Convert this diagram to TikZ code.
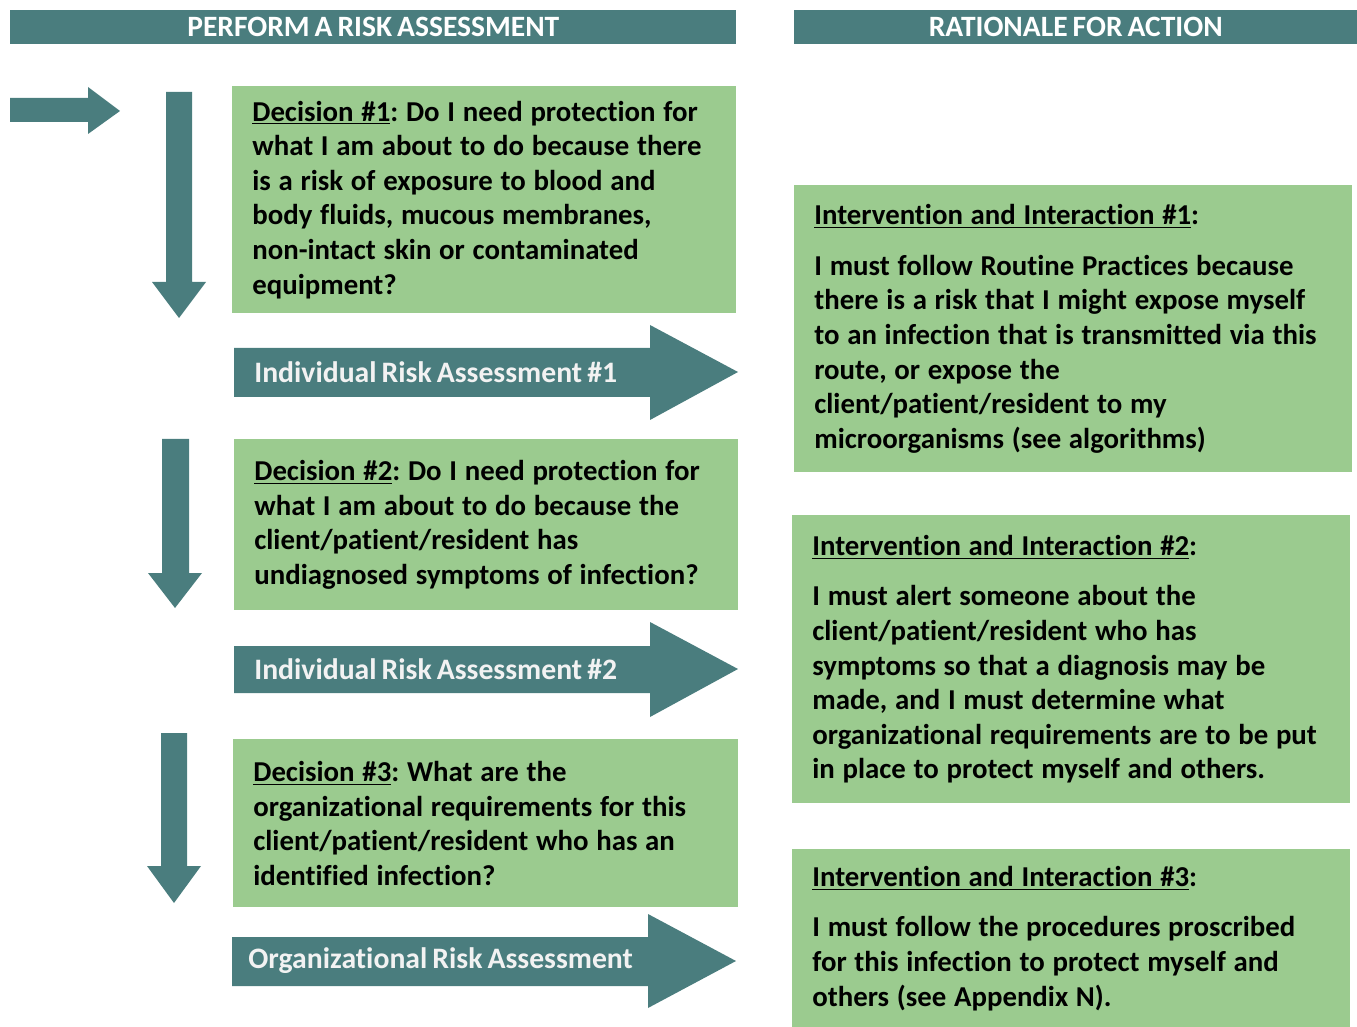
\documentclass[tikz,border=0pt]{standalone}
\usepackage{fontspec}
\setmainfont{Carlito}[Ligatures={NoCommon}, WordSpace=0.75]
\frenchspacing
\usepackage{tikz}
\usetikzlibrary{positioning}

\definecolor{tealbar}{RGB}{74,125,126}
\definecolor{boxgreen}{RGB}{155,203,143}
\definecolor{labelgray}{RGB}{242,242,242}

\tikzset{
    header/.style={fill=tealbar, text=white, font=\bfseries\fontsize{16.8}{19.9}\selectfont,
        inner sep=0pt, anchor=north west, minimum height=0.68cm},
    greenbox/.style={fill=boxgreen, anchor=north west, align=left, inner xsep=0.4cm,
        inner ysep=0pt, font=\bfseries\fontsize{16.4}{19.7}\selectfont,
        execute at begin node={\spaceskip=4.4pt plus 1pt minus 0.5pt}},
    bigarrow/.style={fill=tealbar, draw=none},
    arrowlabel/.style={text=labelgray, anchor=west, inner sep=0pt,
        font=\bfseries\fontsize{16.9}{19.9}\selectfont}
}

\begin{document}
\begin{tikzpicture}[x=0.02cm, y=-0.02cm]

    %% Background
    \useasboundingbox (0,0) rectangle (1357,1027);

    % Headers
    \node[header, minimum width=14.52cm] (hleft) at (10,10) {PERFORM A RISK ASSESSMENT};
    \node[header, minimum width=11.26cm] (hright) at (794,10) {RATIONALE FOR ACTION};

    % Entry arrow
    \fill[tealbar] (10,98) -- (88,98) -- (88,87) -- (120,111) -- (88,134) -- (88,122) -- (10,122) -- cycle;

    % Down arrows
    \fill[tealbar] (166,92) -- (192,92) -- (192,282) -- (206,282) -- (179,318) -- (152,282) -- (166,282) -- cycle;
    \fill[tealbar] (162,439) -- (189,439) -- (189,573) -- (202,573) -- (175,608) -- (148,573) -- (162,573) -- cycle;
    \fill[tealbar] (161,733) -- (187,733) -- (187,866) -- (201,866) -- (174,903) -- (147,866) -- (161,866) -- cycle;

    % Decisions
    \node[greenbox, text width=9.28cm, minimum height=4.54cm] (dec1) at (232,86)
    {\underline{Decision \#1}: Do I need protection for\\
     what I am about to do because there\\
     is a risk of exposure to blood and\\
     body fluids, mucous membranes,\\
     non-intact skin or contaminated\\
     equipment?};

    \node[greenbox, text width=9.28cm, minimum height=3.42cm] (dec2) at (234,439)
    {\underline{Decision \#2}: Do I need protection for\\
     what I am about to do because the\\
     client/patient/resident has\\
     undiagnosed symptoms of infection?};

    \node[greenbox, text width=9.3cm, minimum height=3.36cm] (dec3) at (233,739)
    {\underline{Decision \#3}: What are the\\
     organizational requirements for this\\
     client/patient/resident who has an\\
     identified infection?};

    % Assessment arrows
    \fill[bigarrow] (234,348) -- (650,348) -- (650,325) -- (738,372) -- (650,420) -- (650,397) -- (234,397) -- cycle;
    \node[arrowlabel] (ira1) at (254,372) {Individual Risk Assessment \#1};

    \fill[bigarrow] (234,646) -- (650,646) -- (650,622) -- (738,669) -- (650,717) -- (650,693) -- (234,693) -- cycle;
    \node[arrowlabel] (ira2) at (254,669) {Individual Risk Assessment \#2};

    \fill[bigarrow] (232,937) -- (648,937) -- (648,914) -- (736,961) -- (648,1008) -- (648,986) -- (232,986) -- cycle;
    \node[arrowlabel] (ora) at (248,961) {Organizational Risk Assessment};

    % Interventions
    \node[greenbox, text width=10.36cm, minimum height=5.74cm] (int1) at (794,185)
    {\underline{Intervention and Interaction \#1}:\\[0.32cm]
     I must follow Routine Practices because\\
     there is a risk that I might expose myself\\
     to an infection that is transmitted via this\\
     route, or expose the\\
     client/patient/resident to my\\
     microorganisms (see algorithms)};

    \node[greenbox, text width=10.36cm, minimum height=5.76cm] (int2) at (792,515)
    {\underline{Intervention and Interaction \#2}:\\[0.32cm]
     I must alert someone about the\\
     client/patient/resident who has\\
     symptoms so that a diagnosis may be\\
     made, and I must determine what\\
     organizational requirements are to be put\\
     in place to protect myself and others.};

    \node[greenbox, text width=10.36cm, minimum height=3.56cm] (int3) at (792,849)
    {\underline{Intervention and Interaction \#3}:\\[0.32cm]
     I must follow the procedures proscribed\\
     for this infection to protect myself and\\
     others (see Appendix N).};

\end{tikzpicture}
\end{document}
